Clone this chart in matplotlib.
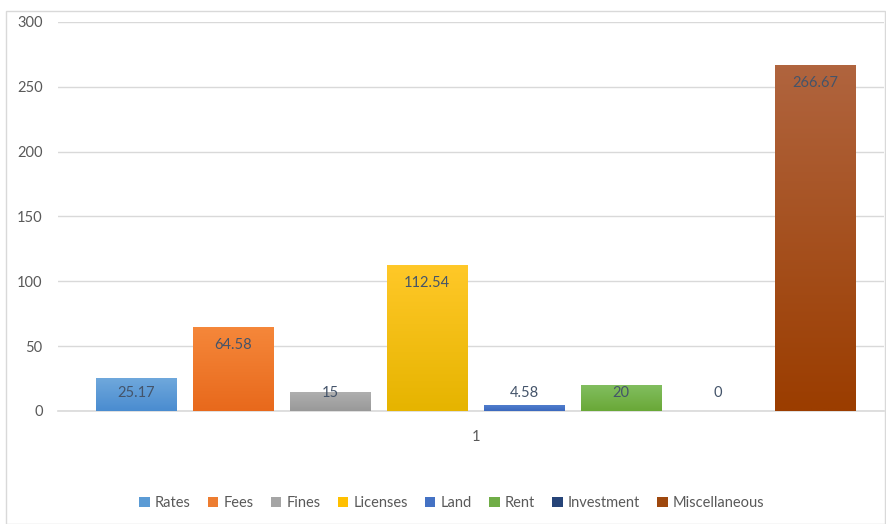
import numpy as np
import matplotlib
matplotlib.use("Agg")
import matplotlib.pyplot as plt
from matplotlib.patches import Rectangle, Patch
from matplotlib.colors import to_rgb

# data
categories = ["Rates", "Fees", "Fines", "Licenses", "Land", "Rent", "Investment", "Miscellaneous"]
values = [25.17, 64.58, 15, 112.54, 4.58, 20, 0, 266.67]
group_label = "1"

# gradient colours, top -> bottom
top_cols = ["#6fa8dc", "#f5873a", "#b0b0b0", "#ffc828", "#507dcd", "#82be5f", "#2f5290", "#b0643e"]
bot_cols = ["#4a8cd0", "#e8691c", "#999999", "#e6b400", "#3c69be", "#69a837", "#203d70", "#9b3d00"]
legend_cols = ["#5b9bd5", "#ed7d31", "#a5a5a5", "#ffc000", "#4472c4", "#70ad47", "#264478", "#9e480e"]

plt.rcParams['font.family'] = ['Lato', 'DejaVu Sans']
text_col = "#595959"
label_col = "#44546a"
grid_col = "#d9d9d9"

fig = plt.figure(figsize=(8.86, 5.24), dpi=100)
fig.patches.append(Rectangle((6 / 886, 0), 879 / 886, 513 / 524, transform=fig.transFigure,
                             fill=False, edgecolor=grid_col, linewidth=1))
ax = fig.add_axes([58 / 886, 113 / 524, 826 / 886, 389 / 524])

x = np.arange(len(categories))
width = 0.825
bars = ax.bar(x, values, width=width, color=legend_cols, zorder=2)

# vertical gradient fill clipped to each bar
for b, tc, bc in zip(bars, top_cols, bot_cols):
    h = b.get_height()
    if h <= 0:
        continue
    t = np.linspace(0, 1, 64)[:, None]
    grad = (1 - t) * np.array(to_rgb(tc)) + t * np.array(to_rgb(bc))
    img = ax.imshow(grad[:, None, :].repeat(2, axis=1),
                    extent=[b.get_x(), b.get_x() + b.get_width(), 0, h],
                    aspect='auto', zorder=3, interpolation='bilinear')
    img.set_clip_path(b)

# data labels, inside end
off = 18 * 300 / 389
for xi, v in zip(x, values):
    ax.text(xi, max(v - off, off), f"{v:g}", ha='center', va='center',
            fontsize=10.5, color=label_col, zorder=4)

ax.set_ylim(0, 300)
ax.set_xlim(-0.804, 7.71)
ax.set_yticks(np.arange(0, 301, 50))
ax.set_xticks([3.5])
ax.set_xticklabels([group_label])
ax.yaxis.grid(True, color=grid_col, linewidth=1, zorder=0)
ax.set_axisbelow(True)
for s in ["top", "right", "left"]:
    ax.spines[s].set_visible(False)
ax.spines["bottom"].set_color(grid_col)
ax.spines["bottom"].set_linewidth(1.2)
ax.tick_params(axis='both', length=0, labelsize=10.5, colors=text_col)
ax.tick_params(axis='y', pad=11)
ax.tick_params(axis='x', pad=14)

handles = [Patch(facecolor=c, edgecolor='none') for c in legend_cols]
fig.legend(handles, categories, loc='center', bbox_to_anchor=(0.51, 21 / 524), ncol=8,
           frameon=False, fontsize=10.5, labelcolor=text_col, handlelength=0.7,
           handleheight=0.7, handletextpad=0.35, columnspacing=1.2)

fig.savefig("out.png", dpi=100)
